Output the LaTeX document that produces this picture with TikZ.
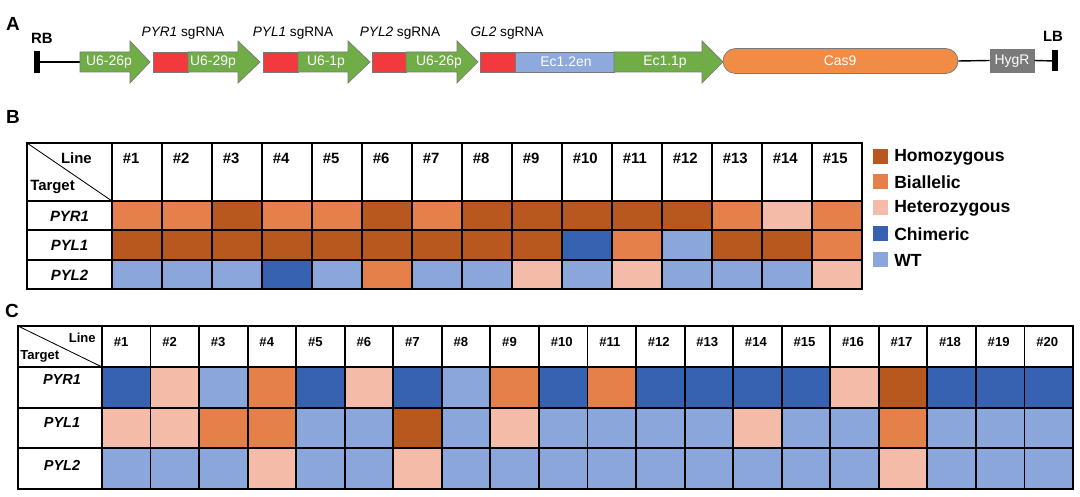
\documentclass[tikz,border=0pt]{standalone}
\usepackage{fontspec}
\setmainfont{Liberation Sans}
\definecolor{cH}{RGB}{185,88,30}
\definecolor{cB}{RGB}{230,128,75}
\definecolor{cE}{RGB}{244,187,168}
\definecolor{cC}{RGB}{55,98,178}
\definecolor{cW}{RGB}{138,166,219}
\definecolor{arrgreen}{RGB}{112,173,71}
\definecolor{sgred}{RGB}{242,58,62}
\definecolor{ecblue}{RGB}{142,169,219}
\definecolor{casor}{RGB}{240,140,70}
\definecolor{hyg}{RGB}{122,122,122}
\definecolor{partedge}{RGB}{120,120,120}
\newcommand\gArrow[3]{\draw[part, fill=arrgreen] (#1,52) -- (#2,52) -- (#2,41) -- (#3,62) -- (#2,83) -- (#2,72) -- (#1,72) -- cycle;}
\begin{document}
\begin{tikzpicture}[x=0.025cm,y=-0.025cm,
  part/.style={draw=partedge, line width=0.5pt},
  lbl/.style={font=\fontsize{9.9pt}{11pt}\selectfont, text=white, inner sep=0},
  sg/.style={font=\fontsize{9.7pt}{11pt}\selectfont, inner sep=0},
  panel/.style={font=\fontsize{13.5pt}{15pt}\selectfont\bfseries, inner sep=0},
  border/.style={font=\fontsize{10.6pt}{12pt}\selectfont\bfseries, inner sep=0},
  bhead/.style={font=\fontsize{10.6pt}{12pt}\selectfont\bfseries, inner sep=0},
  chead/.style={font=\fontsize{9.3pt}{11pt}\selectfont\bfseries, inner sep=0},
  brow/.style={font=\fontsize{10.6pt}{12pt}\selectfont\bfseries\itshape, inner sep=0},
  crow/.style={font=\fontsize{10.3pt}{12pt}\selectfont\bfseries\itshape, inner sep=0},
  legtext/.style={font=\fontsize{12.5pt}{14pt}\selectfont\bfseries, inner sep=0, anchor=west},
  grid/.style={line width=1.3pt, line cap=rect}]
\useasboundingbox (0,0) rectangle (1080,497);

% ---------------- Panel A ----------------
\node[panel] (pA) at (13,24) {A};
\node[border] (rb) at (42,38) {RB};
\node[border] (lb) at (1053,36) {LB};
\coordinate (rbbar) at (37,62);
\coordinate (lbbar) at (1055,61);
\draw[line width=4pt] (37,51) -- (37,73);
\draw[line width=4pt] (1055,50) -- (1055,71);
\coordinate (a1start) at (80,62);
\draw[line width=1pt] (rbbar) -- (a1start);

\gArrow{80}{130}{150}
\node[lbl] (u1) at (109,62) {U6-26p};

\draw[part, fill=sgred] (153,52) rectangle (188,72);
\gArrow{188}{238}{260}
\node[lbl] (u2) at (213,62) {U6-29p};
\node[sg] (s1) at (183,33) {\textit{PYR1} sgRNA};

\draw[part, fill=sgred] (263,52) rectangle (298,72);
\gArrow{298}{348}{370}
\node[lbl] (u3) at (326,62) {U6-1p};
\node[sg] (s2) at (293,33) {\textit{PYL1} sgRNA};

\draw[part, fill=sgred] (372,52) rectangle (406,72);
\gArrow{406}{457}{478}
\node[lbl] (u4) at (439,62) {U6-26p};
\node[sg] (s3) at (400,33) {\textit{PYL2} sgRNA};

\draw[part, fill=sgred] (480,52) rectangle (515,72);
\draw[part, fill=ecblue] (515,52) rectangle (614,72);
\node[lbl] (ec2) at (566,62) {Ec1.2en};
\node[sg] (s4) at (507,33) {\textit{GL2} sgRNA};
\gArrow{614}{702}{723}
\node[lbl] (ec1) at (665,62) {Ec1.1p};

\node[part, fill=casor, rounded corners=12.5*0.025cm, minimum width=235*0.025cm, minimum height=25*0.025cm, inner sep=0] (cas) at (840.5,61) {};
\node[lbl] (castxt) at (840,61) {Cas9};
\node[part, fill=hyg, minimum width=44*0.025cm, minimum height=23*0.025cm, inner sep=0] (hygr) at (1012,60.5) {};
\node[lbl] (hygtxt) at (1012,61) {HygR};
\draw[line width=1pt] (cas.east) -- (hygr.west);
\draw[line width=1pt] (hygr.east) -- (lbbar);

% ---------------- Panel B ----------------
\node[panel] (pB) at (13,117) {B};
\foreach \r/\vals in {0/{B,B,H,B,B,H,B,H,H,H,H,H,B,E,B},
                      1/{H,H,H,H,H,H,H,H,H,C,B,W,H,H,B},
                      2/{W,W,W,C,W,B,W,W,E,W,E,W,W,W,E}}{
  \foreach \v [count=\i from 0] in \vals {
    \fill[c\v] (112+50*\i,201+29.33*\r) rectangle ++(50,29.33);
  }
}
\foreach \k in {0,...,15} \draw[grid] (112+50*\k,143) -- (112+50*\k,289);
\draw[grid] (27,143) -- (27,289);
\foreach \yy in {143,201,230.33,259.67,289} \draw[grid] (27,\yy) -- (862,\yy);
\coordinate (bdA) at (27,143);
\coordinate (bdB) at (112,201);
\draw[line width=0.6pt] (bdA) -- (bdB);
\node[bhead, anchor=east] (bline) at (92,158) {Line};
\node[bhead, anchor=west] (btarget) at (30,187) {Target};
\foreach \k in {1,...,15} \node[bhead, anchor=west] (bh\k) at (112+50*\k-39.5,158) {\#\k};
\node[brow] (br1) at (69.5,216) {PYR1};
\node[brow] (br2) at (69.5,245) {PYL1};
\node[brow] (br3) at (69.5,275) {PYL2};

% legend
\foreach \c/\t/\yy [count=\n] in {cH/Homozygous/157, cB/Biallelic/182, cE/Heterozygous/208, cC/Chimeric/234, cW/WT/260}{
  \fill[\c] (873,\yy-7.5) rectangle ++(15,15);
  \node[legtext] (leg\n) at (894,\yy) {\t};
}

% ---------------- Panel C ----------------
\node[panel] (pC) at (12,311) {C};
\foreach \r/\vals in {0/{C,E,W,B,C,E,C,W,B,C,B,C,C,C,C,E,H,C,C,C},
                      1/{E,E,B,B,W,W,H,W,E,W,W,W,W,E,W,W,B,W,W,W},
                      2/{W,W,W,E,W,W,E,W,W,W,W,W,W,W,W,W,E,W,W,W}}{
  \foreach \v [count=\i from 0] in \vals {
    \fill[c\v] (102+48.55*\i,367+40.67*\r) rectangle ++(48.55,40.67);
  }
}
\foreach \k in {0,...,20} \draw[grid] (102+48.55*\k,326) -- (102+48.55*\k,489);
\draw[grid] (18,326) -- (18,489);
\foreach \yy in {326,367,407.67,448.33,489} \draw[grid] (18,\yy) -- (1073,\yy);
\coordinate (cdA) at (18,326);
\coordinate (cdB) at (102,367);
\draw[line width=0.6pt] (cdA) -- (cdB);
\node[chead, anchor=east] (cline) at (96,338) {Line};
\node[chead, anchor=west] (ctarget) at (20,356) {Target};
\foreach \k in {1,...,20} \node[chead, anchor=west] (ch\k) at (102+48.55*\k-37,342) {\#\k};
\node[crow] (cr1) at (62,380) {PYR1};
\node[crow] (cr2) at (62,423) {PYL1};
\node[crow] (cr3) at (62,465) {PYL2};
\end{tikzpicture}
\end{document}
